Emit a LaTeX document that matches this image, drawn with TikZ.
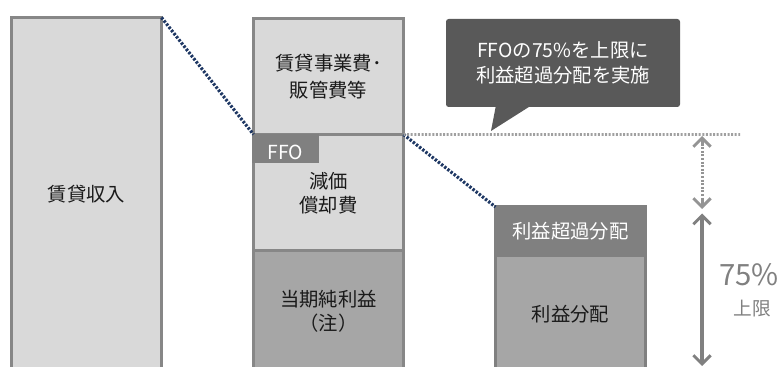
\documentclass[tikz,border=0pt]{standalone}
\usepackage{fontspec}
\setmainfont{Noto Sans CJK JP}
\usetikzlibrary{arrows.meta}
\definecolor{boxgray}{HTML}{D9D9D9}
\definecolor{midgray}{HTML}{A6A6A6}
\definecolor{edgegray}{HTML}{878787}
\definecolor{tabgray}{HTML}{808080}
\definecolor{notegray}{HTML}{595959}
\definecolor{dotgray}{HTML}{A0A0A0}
\definecolor{navy}{HTML}{1F3864}
\definecolor{ink}{HTML}{1A1A1A}

\tikzset{
	block/.style={draw=edgegray,line width=2.25pt,fill=boxgray,inner sep=0pt,outer sep=0pt,
		align=center,text=ink,font=\fontsize{14.5}{20}\selectfont},
	guide/.style={navy,line width=2.4pt,dash pattern=on 1.8pt off 1.2pt},
	chevron/.style={{Straight Barb[length=6.5pt,width=13pt,line width=2.25pt]}-{Straight Barb[length=6.5pt,width=13pt,line width=2.25pt]}},
	barb/.style={-{Straight Barb[length=6.5pt,width=13pt,line width=2.25pt]}}
}

\begin{document}
\begin{tikzpicture}[x=0.75pt,y=-0.75pt]
			\useasboundingbox (0,0) rectangle (783,367);

			\node[block,minimum width=112.5pt,minimum height=264.4pt] (rent) at (86.5,193.75) {賃貸収入};

			\node[block,minimum width=112.5pt,minimum height=87pt] (opex) at (328.5,76.5) {賃貸事業費･\\販管費等};
			\node[block,minimum width=112.5pt,minimum height=87.4pt,font=\fontsize{14.5}{18}\selectfont] (dep) at (328.5,192.75) {減価\\償却費};
			\node[block,fill=midgray,minimum width=112.5pt,minimum height=90.75pt,font=\fontsize{14.5}{18}\selectfont] (net) at (328.5,311.5) {当期純利益\\（注）};
			\node[fill=tabgray,text=white,inner sep=0pt,minimum width=50.25pt,minimum height=21.75pt,
				text height=17pt,text depth=0pt,font=\fontsize{14.5}{16}\selectfont] (ffo) at (285.5,148.5) {FFO};

			\node[block,draw=tabgray,fill=midgray,minimum width=112.5pt,minimum height=87.4pt] (dist) at (570.5,313.75) {利益分配};
			\node[block,draw=tabgray,fill=tabgray,text=white,minimum width=112.5pt,minimum height=36pt] (excess) at (570.5,231) {利益超過分配};

			\draw[guide] (rent.north east) -- (dep.north west);
			\draw[guide] (dep.north east) -- (excess.north west);

			\coordinate (capend) at (740,134.5);
			\draw[dotgray,line width=2pt,dash pattern=on 1.5pt off 1.2pt] (dep.north east) -- (capend);

			\node[fill=notegray,rounded corners=2pt,text=white,align=center,minimum width=175.5pt,minimum height=66pt,
				font=\fontsize{14.5}{18.75}\selectfont] (note) at (563,63) {FFOの75\%を上限に\\利益超過分配を実施};
			\fill[notegray] (496,105) -- (491,131) -- (532,105) -- cycle;

			\coordinate (dtop) at (702,136);
			\coordinate (dbot) at (702,209);
			\coordinate (stop) at (702,213.5);
			\coordinate (sbot) at (702,366);
			\draw[black!42,line width=2.25pt,dash pattern=on 1.5pt off 1.2pt] (702,140) -- (702,205);
			\draw[barb,black!42,line width=2.25pt] (702,146) -- (dtop);
			\draw[barb,black!42,line width=2.25pt] (702,199) -- (dbot);
			\draw[chevron,tabgray,line width=3pt] (stop) -- (sbot);

			\node[text=tabgray,font=\fontsize{22}{22}\selectfont] (pct) at (749,275) {75\%};
			\node[text=tabgray,font=\fontsize{14}{16}\selectfont] (limit) at (752,309) {上限};
		\end{tikzpicture}
\end{document}
